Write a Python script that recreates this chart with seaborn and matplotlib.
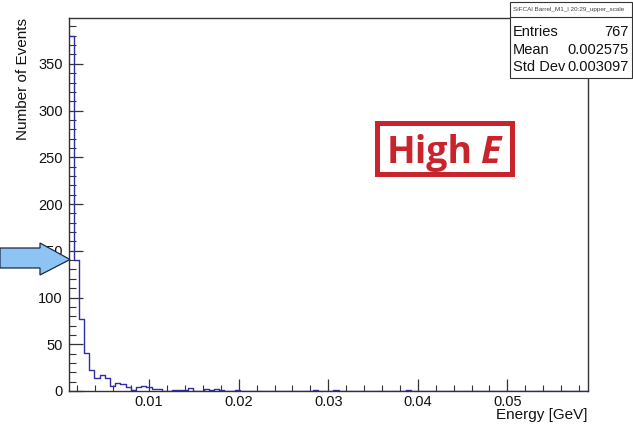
import numpy as np
import pandas as pd
import matplotlib
matplotlib.use("Agg")
import matplotlib.pyplot as plt
from matplotlib.patches import Polygon, Rectangle
from matplotlib.ticker import MultipleLocator
import seaborn as sns

# ---------------- data ----------------
bin_lo, bin_hi, n_bins = 0.001, 0.059, 100
counts_head = [380, 140, 77, 41, 22, 14, 17, 14, 5, 9, 7, 4, 1, 4, 5, 4, 2, 2,
               0, 0, 1, 1, 1, 3, 0, 0, 2, 1, 2, 1, 0, 0, 1]
sparse_bins = [47, 51, 65]
sparse_counts = [1, 1, 1]

x_ticks = [0.01, 0.02, 0.03, 0.04, 0.05]
x_tick_labels = ["0.01", "0.02", "0.03", "0.04", "0.05"]
y_ticks = [0, 50, 100, 150, 200, 250, 300, 350]

stats_title = "SiFCAl Barrel_M1_l 20:29_upper_scale"
stats_names = ["Entries", "Mean", "Std Dev"]
stats_values = ["767", "0.002575", "0.003097"]

# ---------------- build table ----------------
counts = np.zeros(n_bins)
counts[:len(counts_head)] = counts_head
for b, c in zip(sparse_bins, sparse_counts):
    counts[b] = c
edges = np.linspace(bin_lo, bin_hi, n_bins + 1)
centers = 0.5 * (edges[:-1] + edges[1:])
df = pd.DataFrame({"energy": centers, "count": counts})

# ---------------- figure ----------------
sns.set_theme(style="white")
plt.rcParams["font.family"] = ["Liberation Sans", "DejaVu Sans"]

W, H = 633, 428
fig = plt.figure(figsize=(W / 100, H / 100), dpi=100)
ax = fig.add_axes([68.5 / W, 1 - 391 / H, (588 - 68.5) / W, (391 - 18) / H])

sns.histplot(data=df, x="energy", weights="count", bins=n_bins, binrange=(bin_lo, bin_hi),
             element="step", fill=False, color="#2e2ea0", linewidth=1.0, ax=ax)

ax.set_xlim(bin_lo, bin_hi)
ax.set_ylim(0, 399)
ax.set_xticks(x_ticks)
ax.set_xticklabels(x_tick_labels)
ax.set_yticks(y_ticks)
ax.xaxis.set_minor_locator(MultipleLocator(0.002))
ax.yaxis.set_minor_locator(MultipleLocator(10))
ax.tick_params(axis="both", which="both", direction="in", colors="#333333",
               labelcolor="#111111", labelsize=10.5)
ax.tick_params(axis="y", which="major", length=10, width=0.9, pad=4)
ax.tick_params(axis="y", which="minor", length=5, width=0.8)
ax.tick_params(axis="x", which="major", length=8.5, width=0.9, pad=3)
ax.tick_params(axis="x", which="minor", length=4.6, width=0.8)
ax.tick_params(left=True, bottom=True, which="both")

for s in ax.spines.values():
    s.set_color("#333333")
    s.set_linewidth(1.0)

ax.set_ylabel("Number of Events", loc="top", fontsize=11, color="#111111", labelpad=6)
ax.set_xlabel("Energy [GeV]", loc="right", fontsize=11, color="#111111", labelpad=-1)
ax.grid(False)


def fx(x):
    return x / W


def fy(y):
    return 1 - y / H


# ---------------- stats box ----------------
bx0, bx1, by0, by1 = 509.5, 632, 2, 78
fig.patches.append(Rectangle((fx(bx0), fy(by1)), fx(bx1) - fx(bx0), fy(by0) - fy(by1),
                             transform=fig.transFigure, facecolor="white",
                             edgecolor="#333333", linewidth=0.8, zorder=20))
fig.lines.append(plt.Line2D([fx(bx0), fx(bx1)], [fy(17), fy(17)], transform=fig.transFigure,
                            color="#333333", linewidth=0.8, zorder=21))
fig.text(fx(513), fy(9), stats_title, fontsize=4.6, color="#444444",
         ha="left", va="center", zorder=22)
for i, (n, v) in enumerate(zip(stats_names, stats_values)):
    yy = 32 + i * 17.5
    fig.text(fx(513), fy(yy), n, fontsize=10.5, color="#111111", ha="left", va="center", zorder=22)
    fig.text(fx(629), fy(yy), v, fontsize=10.5, color="#111111", ha="right", va="center", zorder=22)

# ---------------- High E label ----------------
red = "#c9232b"
fig.patches.append(Rectangle((fx(376.5), fy(173.5)), fx(511.5) - fx(376.5), fy(122.5) - fy(173.5),
                             transform=fig.transFigure, facecolor="white",
                             edgecolor=red, linewidth=3.6, zorder=20))
fig.text(fx(387), fy(163), "High", fontsize=27, fontweight="bold", family="Open Sans",
         color=red, ha="left", va="baseline", zorder=22)
fig.text(fx(480), fy(163), "E", fontsize=27, fontweight="bold", fontstyle="italic",
         family="Open Sans", color=red, ha="left", va="baseline", zorder=22)

# ---------------- blue arrow ----------------
arrow_px = [(0, 248), (40, 248), (40, 243), (70, 259.5), (40, 275), (40, 268), (0, 268)]
fig.patches.append(Polygon([(fx(x), fy(y)) for x, y in arrow_px], closed=True,
                           transform=fig.transFigure, facecolor="#8ec4f4",
                           edgecolor="#1c2a44", linewidth=0.9, zorder=20))

fig.savefig("out.png", dpi=100)
